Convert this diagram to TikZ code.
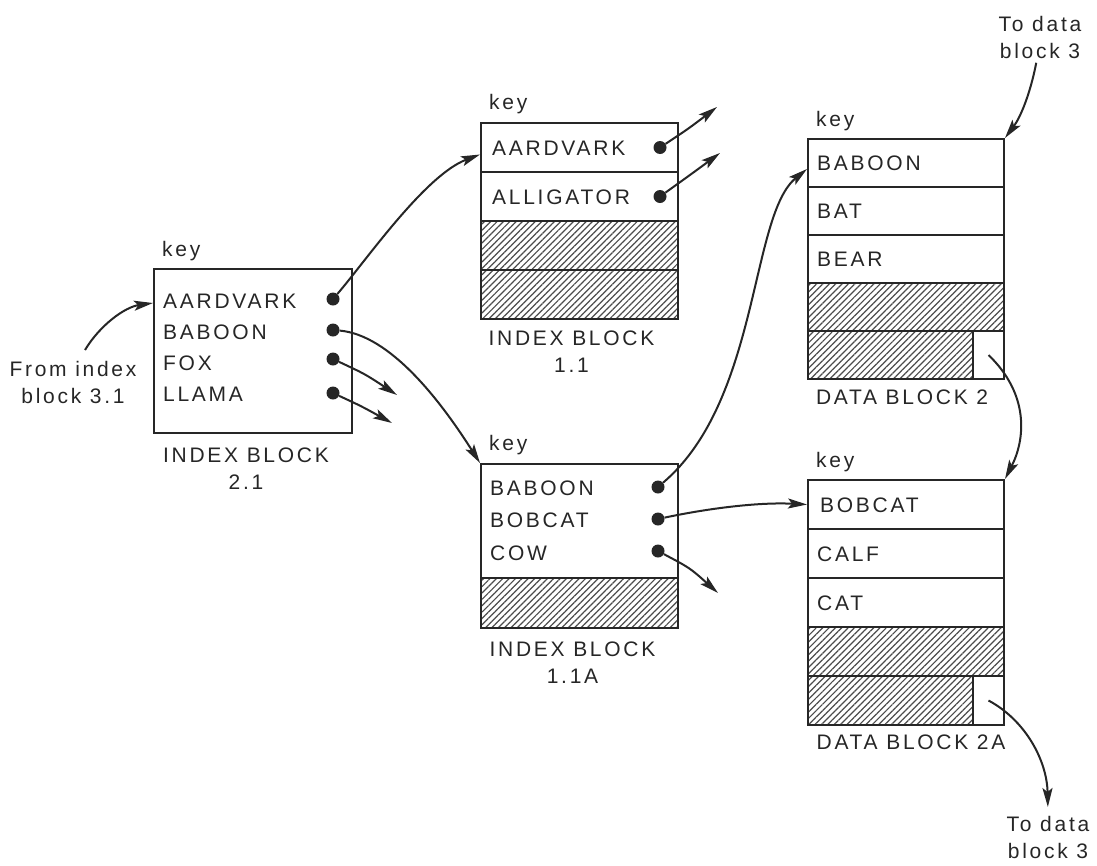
\documentclass[tikz,border=0pt]{standalone}
\usepackage{fontspec}
\setmainfont{Liberation Sans}[LetterSpace=13]
\usetikzlibrary{arrows.meta,patterns.meta}
\newcommand\lab{\fontsize{21}{27}\selectfont}

\begin{document}
\begin{tikzpicture}[x=1pt,y=-1pt,font=\lab,color=black!85,
  cell/.style={draw,line width=2pt,inner sep=0pt,anchor=north west},
  hatchcell/.style={cell,pattern={Lines[angle=45,distance=4.5pt,line width=1.2pt]},pattern color=black!70},
  entry/.style={anchor=west,inner sep=0pt,text height=15pt,text depth=0pt},
  keylbl/.style={anchor=base west,inner sep=0pt},
  caption/.style={anchor=north,align=center,inner sep=0pt},
  dot/.style={circle,fill,inner sep=0pt,minimum size=13pt},
  link/.style={line width=2pt,-{Stealth[length=19pt,width=10pt,inset=4pt]}}]
\useasboundingbox (0,0) rectangle (1097,865);

% ---------- index block 2.1 ----------
\node[cell,minimum width=198pt,minimum height=164pt] (b21) at (153,268) {};
\node[keylbl] at ([xshift=9pt,yshift=12pt]b21.north west) {key};
\node[entry] (e21a) at (163,301) {AARDVARK};
\node[entry] (e21b) at (163,332) {BABOON};
\node[entry] (e21c) at (163,363) {FOX};
\node[entry] (e21d) at (163,394) {LLAMA};
\node[dot] (p21a) at (333,299) {};
\node[dot] (p21b) at (333,330) {};
\node[dot] (p21c) at (333,359) {};
\node[dot] (p21d) at (333,393) {};
\node[caption] (c21) at ([xshift=-7pt,yshift=-14pt]b21.south) {INDEX BLOCK\\2.1};

\node[caption] (from) at (73,361) {From index\\block 3.1};

% ---------- index block 1.1 ----------
\node[cell,minimum width=197pt,minimum height=49pt] (b11r1) at (480,122) {};
\node[cell,minimum width=197pt,minimum height=49pt] (b11r2) at (480,171) {};
\node[hatchcell,minimum width=197pt,minimum height=49pt] (b11r3) at (480,220) {};
\node[hatchcell,minimum width=197pt,minimum height=49pt] (b11r4) at (480,269) {};
\node[keylbl] at ([xshift=9pt,yshift=13pt]b11r1.north west) {key};
\node[entry] at ([xshift=12pt]b11r1.west) {AARDVARK};
\node[entry] at ([xshift=12pt]b11r2.west) {ALLIGATOR};
\node[dot] (p11a) at ([xshift=-19pt]b11r1.east) {};
\node[dot] (p11b) at ([xshift=-19pt]b11r2.east) {};
\node[caption] (c11) at ([xshift=-8pt,yshift=-11pt]b11r4.south) {INDEX BLOCK\\1.1};

% ---------- index block 1.1A ----------
\node[cell,minimum width=197pt,minimum height=114pt] (b1a) at (480,463) {};
\node[hatchcell,minimum width=197pt,minimum height=50pt] (b1ah) at (480,577) {};
\node[keylbl] at ([xshift=9pt,yshift=13pt]b1a.north west) {key};
\node[entry] at (490,488) {BABOON};
\node[entry] at (490,520) {BOBCAT};
\node[entry] at (490,553) {COW};
\node[dot] (p1aa) at (658,487) {};
\node[dot] (p1ab) at (658,519) {};
\node[dot] (p1ac) at (658,551) {};
\node[caption] (c1a) at ([xshift=-7pt,yshift=-13pt]b1ah.south) {INDEX BLOCK\\1.1A};

% ---------- data block 2 ----------
\node[cell,minimum width=196pt,minimum height=48pt] (d2r1) at (807,138) {};
\node[cell,minimum width=196pt,minimum height=48pt] (d2r2) at (807,186) {};
\node[cell,minimum width=196pt,minimum height=48pt] (d2r3) at (807,234) {};
\node[hatchcell,minimum width=196pt,minimum height=48pt] (d2r4) at (807,282) {};
\node[hatchcell,minimum width=165pt,minimum height=48pt] (d2r5) at (807,330) {};
\node[cell,minimum width=31pt,minimum height=48pt] (d2p) at (972,330) {};
\node[keylbl] at ([xshift=9pt,yshift=12pt]d2r1.north west) {key};
\node[entry] at ([xshift=10pt]d2r1.west) {BABOON};
\node[entry] at ([xshift=10pt]d2r2.west) {BAT};
\node[entry] at ([xshift=10pt]d2r3.west) {BEAR};
\node[caption] (cd2) at (902,390) {DATA BLOCK 2};

\node[caption] (to1) at (1040,16) {To data\\block 3};

% ---------- data block 2A ----------
\node[cell,minimum width=196pt,minimum height=49pt] (d2ar1) at (807,479) {};
\node[cell,minimum width=196pt,minimum height=49pt] (d2ar2) at (807,528) {};
\node[cell,minimum width=196pt,minimum height=49pt] (d2ar3) at (807,577) {};
\node[hatchcell,minimum width=196pt,minimum height=49pt] (d2ar4) at (807,626) {};
\node[hatchcell,minimum width=165pt,minimum height=49pt] (d2ar5) at (807,675) {};
\node[cell,minimum width=31pt,minimum height=49pt] (d2ap) at (972,675) {};
\node[keylbl] at ([xshift=9pt,yshift=12pt]d2ar1.north west) {key};
\node[entry] at ([xshift=13pt]d2ar1.west) {BOBCAT};
\node[entry] at ([xshift=10pt]d2ar2.west) {CALF};
\node[entry] at ([xshift=10pt]d2ar3.west) {CAT};
\node[caption] (cd2a) at (911,735) {DATA BLOCK 2A};

\node[caption] (to2) at (1048,816) {To data\\block 3};

% ---------- free ends of the outgoing pointers ----------
\coordinate (o21c) at (397,395);
\coordinate (o21d) at (392,423);
\coordinate (o11a) at (717,107);
\coordinate (o11b) at (720,153);
\coordinate (o1ac) at (718,593);

% ---------- pointers ----------
\draw[link] ([xshift=12pt,yshift=11pt]from.north) .. controls (100,325) and (125,307) .. ([yshift=-35pt]b21.north west);
\draw[link] (p21a) .. controls (365,262) and (425,175) .. ([yshift=-7pt]b11r1.west);
\draw[link] (p21b) .. controls (390,335) and (440,400) .. (b1a.north west);
\draw[link] (p21c) .. controls (365,374) .. (o21c);
\draw[link] (p21d) .. controls (361,406) .. (o21d);
\draw[link] (p11a) .. controls (688,129) .. (o11a);
\draw[link] (p11b) .. controls (690,175) .. (o11b);
\draw[link] (p1aa) .. controls (760,400) and (750,215) .. ([yshift=-6pt]d2r1.west);
\draw[link] (p1ab) .. controls (710,508) and (760,502) .. (d2ar1.west);
\draw[link] (p1ac) .. controls (690,568) .. (o1ac);
\draw[link,shorten <=4pt] ([xshift=-3pt]to1.south) .. controls (1030,95) and (1020,118) .. (d2r1.north east);
\draw[link] (d2p.center) .. controls (1030,395) and (1025,440) .. (d2ar1.north east);
\draw[link,shorten >=9pt] (d2ap.center) .. controls (1025,720) and (1047,760) .. (to2.north);
\end{tikzpicture}
\end{document}
